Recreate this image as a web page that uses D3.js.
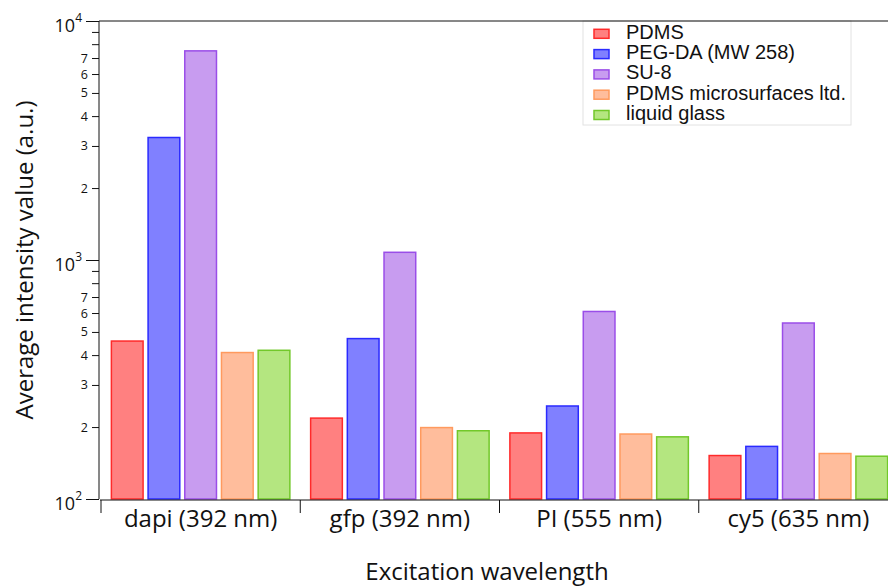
<!DOCTYPE html>
<html>
<head>
<meta charset="utf-8">
<script src="https://cdn.jsdelivr.net/npm/d3@7"></script>
<style>
  html, body { margin: 0; padding: 0; background: #fff; }
  svg { display: block; }
  .lbl { font-family: "Open Sans", "Noto Sans", sans-serif; fill: #111; }
  .leg { font-family: "Liberation Sans", Arial, sans-serif; fill: #111; }
</style>
</head>
<body>
<svg id="chart" width="888" height="586"></svg>
<script>
// values (a.u.)
const categories = ["dapi (392 nm)", "gfp (392 nm)", "PI (555 nm)", "cy5 (635 nm)"];
const series = ["PDMS", "PEG-DA (MW 258)", "SU-8", "PDMS microsurfaces ltd.", "liquid glass"];
const pdms = [458, 218, 189, 152];
const pegda = [3255, 469, 245, 166];
const su8 = [7500, 1077, 609, 545];
const pdmsMicro = [410, 199, 187, 155];
const liquidGlass = [419, 193, 182, 151];
const seriesValues = [pdms, pegda, su8, pdmsMicro, liquidGlass];

const fills = ["#ff8080", "#8080ff", "#c89cf0", "#ffbd9c", "#b4e680"];
const strokes = ["#ff2a2a", "#2a2aff", "#9a4ee8", "#ff9a5e", "#72c82a"];

const size = { width: 888, height: 586 };
const plot = { left: 99, top: 21, bottom: 499, right: 898 };

const svg = d3.select("#chart");

const y = d3.scaleLog()
  .domain([100, 10000])
  .range([plot.bottom, plot.top]);

const x0 = d3.scaleBand()
  .domain(categories)
  .range([101, plot.right]);

const x1 = d3.scaleBand()
  .domain(series)
  .range([0, x0.bandwidth()])
  .paddingInner(0.136)
  .paddingOuter(0.283);

const color = d3.scaleOrdinal().domain(series).range(fills);
const edge = d3.scaleOrdinal().domain(series).range(strokes);

// flatten into one row per bar
const rows = [];
categories.forEach((c, i) => {
  series.forEach((s, j) => rows.push({ cat: c, ser: s, value: seriesValues[j][i] }));
});

// bars
svg.append("g")
  .selectAll("rect")
  .data(rows)
  .join("rect")
  .attr("x", d => x0(d.cat) + x1(d.ser))
  .attr("y", d => y(d.value))
  .attr("width", x1.bandwidth())
  .attr("height", d => y(100) - y(d.value))
  .attr("fill", d => color(d.ser))
  .attr("stroke", d => edge(d.ser))
  .attr("stroke-width", 1.5);

// y axis: minor ticks
const minors = [];
[100, 1000].forEach(dec => d3.range(2, 10).forEach(k => minors.push(k * dec)));

const yMinor = svg.append("g")
  .attr("transform", `translate(${plot.left},0)`)
  .call(d3.axisLeft(y).tickValues(minors).tickSize(7).tickPadding(4)
    .tickFormat(d => {
      const k = Math.round(d / Math.pow(10, Math.floor(Math.log10(d) + 1e-9)));
      return k <= 7 ? k : "";
    }));
yMinor.select(".domain").remove();
yMinor.selectAll("text").attr("class", "lbl").style("font-size", "12.5px").attr("font-family", null);
yMinor.selectAll("line").attr("stroke", "#111");

const yMajor = svg.append("g")
  .attr("transform", `translate(${plot.left},0)`)
  .call(d3.axisLeft(y).tickValues([100, 1000, 10000]).tickSize(13).tickSizeOuter(0).tickFormat(""));
yMajor.select(".domain").attr("stroke", "#111").attr("d", `M0,${plot.bottom}V${plot.top}`);
yMajor.selectAll("line").attr("stroke", "#111");
yMajor.selectAll(".tick text").remove();
const majorText = yMajor.selectAll(".tick")
  .append("text")
  .attr("class", "lbl")
  .attr("x", -17)
  .attr("dy", "10")
  .attr("text-anchor", "end")
  .style("font-size", "18px");
majorText.append("tspan").text("10");
majorText.append("tspan")
  .attr("dy", "-10")
  .style("font-size", "12px")
  .text(d => Math.round(Math.log10(d)));

// x axis with ticks at the category boundaries
const xAxis = svg.append("g")
  .attr("transform", `translate(0,500)`)
  .call(d3.axisBottom(x0).tickSize(0).tickPadding(10).tickSizeOuter(0));
xAxis.select(".domain").attr("stroke", "#111").attr("d", `M100,0H${plot.right}`);
xAxis.selectAll("text").attr("class", "lbl").attr("font-family", null).style("font-size", "24px");
xAxis.selectAll(".bound")
  .data(categories)
  .join("line")
  .attr("class", "bound")
  .attr("x1", d => x0(d)).attr("x2", d => x0(d))
  .attr("y1", 0).attr("y2", 13)
  .attr("stroke", "#111");

// axis titles
svg.append("text")
  .attr("class", "lbl")
  .attr("x", 487).attr("y", 580)
  .attr("text-anchor", "middle")
  .style("font-size", "24px")
  .text("Excitation wavelength");

svg.append("text")
  .attr("class", "lbl")
  .attr("transform", `translate(33,260) rotate(-90)`)
  .attr("text-anchor", "middle")
  .style("font-size", "24px")
  .text("Average intensity value (a.u.)");

// legend
const legend = svg.append("g");
legend.append("rect")
  .attr("x", 583).attr("y", plot.top)
  .attr("width", 268).attr("height", 104)
  .attr("fill", "#fff")
  .attr("stroke", "#e2e2e2");
const item = legend.selectAll(".item")
  .data(series)
  .join("g")
  .attr("class", "item")
  .attr("transform", (d, i) => `translate(594,${29.3 + i * 20.3})`);
item.append("rect")
  .attr("width", 15).attr("height", 9)
  .attr("fill", d => color(d))
  .attr("stroke", d => edge(d))
  .attr("stroke-width", 1.5);
item.append("text")
  .attr("class", "leg")
  .attr("x", 32).attr("y", 9.5)
  .style("font-size", "20px")
  .text(d => d);

// top frame line
svg.append("line")
  .attr("x1", plot.left).attr("x2", size.width)
  .attr("y1", plot.top).attr("y2", plot.top)
  .attr("stroke", "#111");
</script>
</body>
</html>
